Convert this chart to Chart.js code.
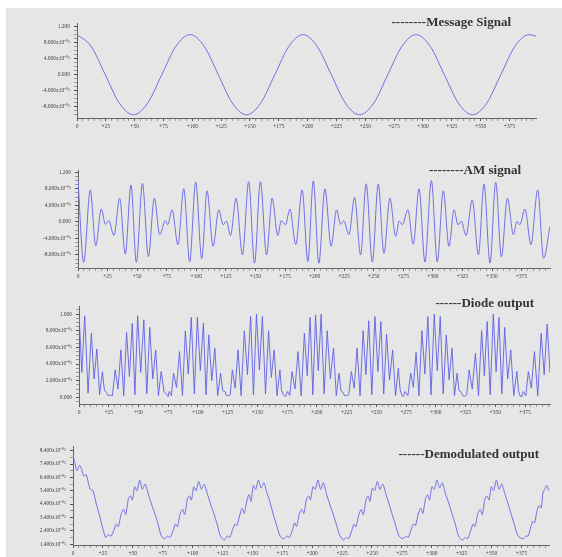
<!DOCTYPE html>
<html>
<head>
<meta charset="utf-8">
<script src="https://cdn.jsdelivr.net/npm/chart.js@4.4.0/dist/chart.umd.min.js"></script>
<style>
body{margin:0;background:#fff;}
#wrap{position:relative;width:562px;height:557px;overflow:hidden;}
#bg{position:absolute;left:6px;top:8px;right:0;bottom:0;background:#e6e6e6;}
canvas{position:absolute;left:0;}
.ttl{position:absolute;font-family:"Liberation Serif",serif;font-weight:bold;font-size:13px;color:#333;white-space:nowrap;line-height:16px;}
</style>
</head>
<body>
<div id="wrap">
  <div id="bg"></div>
  <canvas id="c1"></canvas>
  <canvas id="c2"></canvas>
  <canvas id="c3"></canvas>
  <canvas id="c4"></canvas>
  <div class="ttl" style="right:51px;top:14px">--------Message Signal</div>
  <div class="ttl" style="right:41px;top:162px">--------AM signal</div>
  <div class="ttl" style="right:28px;top:295px">------Diode output</div>
  <div class="ttl" style="right:23px;top:446px">------Demodulated output</div>
</div>
<script>
// x tick labels (shared by all four plots)
const xTickVals = [0,25,50,75,100,125,150,175,200,225,250,275,300,325,350,375];
const xTickLabels = ['0','+25','+50','+75','+100','+125','+150','+175','+200','+225','+250','+275','+300','+325','+350','+375'];

// y tick labels
const y1Ticks = [-0.8,-0.4,0,0.4,0.8,1.2];
const y1Labels = ['-8.000x10⁻⁰¹','-4.000x10⁻⁰¹','0.000','4.000x10⁻⁰¹','8.000x10⁻⁰¹','1.200'];
const y3Ticks = [0,0.2,0.4,0.6,0.8,1.0];
const y3Labels = ['0.000','2.000x10⁻⁰¹','4.000x10⁻⁰¹','6.000x10⁻⁰¹','8.000x10⁻⁰¹','1.000'];
const y4Ticks = [0.14,0.24,0.34,0.44,0.54,0.64,0.74,0.84];
const y4Labels = ['1.400x10⁻⁰¹','2.400x10⁻⁰¹','3.400x10⁻⁰¹','4.400x10⁻⁰¹','5.400x10⁻⁰¹','6.400x10⁻⁰¹','7.400x10⁻⁰¹','8.400x10⁻⁰¹'];

// message signal
const msgT = [0,12.25,24.5,36.75,49,61.25,73.5,85.75,98,110.25,122.5,134.75,147,159.25,171.5,183.75,196,
  208.25,220.5,232.75,245,257.25,269.5,281.75,294,306.25,318.5,330.75,343,355.25,367.5,379.75,392,398];
const msgV = [1,0.71,0,-0.71,-1,-0.71,0,0.71,1,0.71,0,-0.71,-1,-0.71,0,0.71,1,
  0.71,0,-0.71,-1,-0.71,0,0.71,1,0.71,0,-0.71,-1,-0.71,0,0.71,1,0.96];

// AM signal (turning points)
const amT = [0,4.8,10.4,15.0,19.7,23.1,25.9,30.4,35.2,40.0,44.8,49.3,54.5,59.5,64.5,69.1,73.9,75.8,79.5,84.5,
  89.4,94.4,99.5,104.6,109.1,114.2,119.0,122.7,125.5,128.9,133.7,139.0,144.3,149.2,154.2,159.4,164.1,168.9,171.8,175.4,
  179.1,184.1,189.5,194.3,198.9,203.6,208.7,214.0,218.6,222.0,224.7,229.0,233.8,238.9,243.6,248.8,253.8,258.6,263.7,268.5,
  271.6,274.1,278.9,283.4,288.3,293.3,298.7,303.7,308.8,313.6,317.9,321.2,324.0,328.0,333.3,338.5,343.2,348.3,353.1,357.9,
  363.0,368.1,371.0,373.5,377.8,382.9,388.6,393.6,399];
const amV = [0.99,-0.98,0.77,-0.58,0.31,-0.06,0.03,-0.33,0.57,-0.78,0.89,-0.98,0.93,-0.84,0.57,-0.31,0.03,-0.07,0.29,-0.55,
  0.80,-0.96,0.96,-0.89,0.75,-0.59,0.29,-0.07,0.02,-0.33,0.57,-0.80,0.97,-1.0,0.97,-0.80,0.57,-0.33,0.03,-0.07,
  0.31,-0.55,0.77,-0.96,0.99,-1.0,0.80,-0.59,0.29,-0.06,0.02,-0.31,0.59,-0.80,0.92,-0.97,0.91,-0.76,0.57,-0.35,
  0.02,-0.07,0.29,-0.54,0.80,-0.97,1.0,-0.97,0.75,-0.59,0.29,-0.07,0.01,-0.33,0.53,-0.80,0.91,-1.0,0.96,-0.84,
  0.57,-0.31,0.01,-0.07,0.31,-0.55,0.77,-0.88,-0.11];

// diode output
const diodeT = [0,2.4,4.8,7.6,10.4,12.7,15.0,17.3,19.7,21.4,23.1,24.5,25.9,28.1,30.4,32.8,35.2,37.6,40.0,42.4,
  44.8,47.0,49.3,51.9,54.5,57.0,59.5,62.0,64.5,66.8,69.1,71.5,73.9,74.9,75.8,77.6,79.5,82.0,84.5,87.0,
  89.4,91.9,94.4,97.0,99.5,102.0,104.6,106.8,109.1,111.6,114.2,116.6,119.0,120.8,122.7,124.1,125.5,127.2,128.9,131.3,
  133.7,136.3,139.0,141.6,144.3,146.7,149.2,151.7,154.2,156.8,159.4,161.7,164.1,166.5,168.9,170.3,171.8,173.6,175.4,177.2,
  179.1,181.6,184.1,186.8,189.5,191.9,194.3,196.6,198.9,201.2,203.6,206.1,208.7,211.3,214.0,216.3,218.6,220.3,222.0,223.3,
  224.7,226.8,229.0,231.4,233.8,236.3,238.9,241.2,243.6,246.2,248.8,251.3,253.8,256.2,258.6,261.1,263.7,266.1,268.5,270.0,
  271.6,272.8,274.1,276.5,278.9,281.1,283.4,285.8,288.3,290.8,293.3,296.0,298.7,301.2,303.7,306.2,308.8,311.2,313.6,315.7,
  317.9,319.5,321.2,322.6,324.0,326.0,328.0,330.6,333.3,335.9,338.5,340.8,343.2,345.7,348.3,350.7,353.1,355.5,357.9,360.4,
  363.0,365.5,368.1,369.5,371.0,372.2,373.5,375.6,377.8,380.3,382.9,385.7,388.6,391.1,393.6,396.0];
const diodeV = [1.0,0.30,0.98,0.05,0.77,0.22,0.58,0.03,0.31,0.08,0.06,0.02,0.03,0.02,0.33,0.10,0.57,0.02,0.78,0.25,
  0.89,0.03,0.98,0.30,0.93,0.04,0.84,0.22,0.57,0.02,0.31,0.07,0.03,0.01,0.07,0.02,0.29,0.12,0.55,0.02,
  0.80,0.28,0.96,0.04,0.96,0.32,0.89,0.03,0.75,0.20,0.59,0.02,0.29,0.08,0.07,0.02,0.02,0.03,0.33,0.11,
  0.57,0.02,0.80,0.27,0.97,0.03,1.0,0.33,0.97,0.04,0.80,0.24,0.57,0.02,0.33,0.08,0.03,0.01,0.07,0.02,
  0.31,0.10,0.55,0.02,0.77,0.26,0.96,0.03,0.99,0.32,1.0,0.04,0.80,0.22,0.59,0.02,0.29,0.08,0.06,0.02,
  0.02,0.03,0.31,0.11,0.59,0.02,0.80,0.27,0.92,0.03,0.97,0.31,0.91,0.04,0.76,0.21,0.57,0.02,0.35,0.09,
  0.02,0.01,0.07,0.02,0.29,0.12,0.54,0.02,0.80,0.28,0.97,0.03,1.0,0.32,0.97,0.04,0.75,0.21,0.59,0.02,
  0.29,0.08,0.07,0.02,0.01,0.03,0.33,0.10,0.53,0.02,0.80,0.26,0.91,0.03,1.0,0.31,0.96,0.04,0.84,0.22,
  0.57,0.02,0.31,0.08,0.01,0.01,0.07,0.02,0.31,0.11,0.55,0.02,0.77,0.27,0.88,0.30];

// demodulated output
const demodT = [0,1.6,3.3,5.5,7.2,8.9,11.1,12.8,14.5,16.7,19.5,22.3,25.1,27.3,29.6,31.8,34,36.3,37.9,40.4,
  42.4,44.1,46.3,48,49.6,51.6,53.5,55.8,58,60.3,62.8,65.6,68.4,71.1,73.9,
  76.7,79.2,81.2,83.7,85.7,87.3,89.7,91.7,93.4,95.7,97.4,99.0,101.0,102.9,105.2,107.4,109.7,112.2,115.0,117.7,120.5,123.3,
  126.5,129,131,133.5,135.5,137.1,139.5,141.5,143.2,145.5,147.2,148.8,150.8,152.7,155,157.2,159.5,162,164.8,167.5,170.3,173.1,
  176.3,178.8,180.8,183.3,185.3,186.9,189.3,191.3,193,195.3,197,198.6,200.6,202.5,204.8,207,209.3,211.8,214.6,217.3,220.1,222.9,
  226,228.5,230.5,233,235,236.6,239,241,242.7,245,246.7,248.3,250.3,252.2,254.5,256.7,259,261.5,264.3,267,269.8,272.6,
  275.8,278.3,280.3,282.8,284.8,286.4,288.8,290.8,292.5,294.8,296.5,298.1,300.1,302,304.3,306.5,308.8,311.3,314.1,316.8,319.6,322.4,
  325.5,328,330,332.5,334.5,336.1,338.5,340.5,342.2,344.5,346.2,347.8,349.8,351.7,354,356.2,358.5,361,363.8,366.5,369.3,372.1,
  376.3,378.5,380.5,382.5,384.5,386,388,390,391.5,393,394.5,396,398];
const demodV = [0.80,0.75,0.69,0.73,0.70,0.65,0.66,0.60,0.55,0.54,0.44,0.35,0.25,0.19,0.21,0.20,0.24,0.29,0.27,0.37,
  0.40,0.36,0.48,0.50,0.47,0.57,0.54,0.62,0.55,0.59,0.52,0.44,0.37,0.29,0.20,
  0.18,0.20,0.19,0.24,0.29,0.27,0.37,0.40,0.36,0.48,0.50,0.47,0.57,0.54,0.61,0.55,0.59,0.52,0.44,0.37,0.29,0.20,
  0.17,0.20,0.19,0.25,0.29,0.28,0.36,0.41,0.37,0.47,0.51,0.46,0.58,0.55,0.62,0.56,0.60,0.53,0.45,0.36,0.28,0.20,
  0.18,0.20,0.19,0.24,0.30,0.27,0.37,0.40,0.37,0.48,0.50,0.47,0.57,0.55,0.62,0.55,0.60,0.52,0.44,0.37,0.29,0.21,
  0.17,0.19,0.18,0.24,0.29,0.27,0.36,0.40,0.36,0.47,0.50,0.46,0.56,0.54,0.61,0.55,0.59,0.52,0.44,0.36,0.28,0.20,
  0.18,0.20,0.19,0.25,0.29,0.28,0.37,0.41,0.37,0.48,0.51,0.47,0.57,0.55,0.62,0.56,0.60,0.52,0.45,0.37,0.29,0.20,
  0.17,0.19,0.18,0.24,0.29,0.27,0.37,0.40,0.36,0.48,0.50,0.47,0.57,0.54,0.62,0.55,0.59,0.52,0.44,0.36,0.28,0.20,
  0.18,0.20,0.20,0.26,0.31,0.30,0.39,0.43,0.41,0.53,0.55,0.58,0.54];

const tickFont = {family: '"Liberation Serif", serif', size: 5.5};
const lineColor = '#6f6fe6';

function near(a, b) { return Math.abs(a - b) < 1e-6; }

function makePanel(id, p) {
  const cv = document.getElementById(id);
  const padTop = 12, xAxisH = 22;
  cv.width = 562;
  cv.height = (p.bottom - p.top) + padTop + xAxisH;
  cv.style.top = (p.top - padTop) + 'px';
  const pts = p.t.map((t, i) => ({x: t, y: p.v[i]}));
  return new Chart(cv, {
    type: 'line',
    data: {datasets: [{
      data: pts,
      borderColor: p.color || lineColor,
      borderWidth: 1,
      pointRadius: 0,
      tension: p.tension || 0,
      cubicInterpolationMode: p.mono ? 'monotone' : 'default'
    }]},
    options: {
      responsive: false,
      animation: false,
      layout: {padding: {top: padTop, right: 562 - p.right, left: 0, bottom: 0}},
      plugins: {legend: {display: false}, tooltip: {enabled: false}},
      scales: {
        x: {
          type: 'linear', min: 0, max: p.xmax,
          afterFit: s => { s.height = xAxisH; },
          afterBuildTicks: s => {
            const tk = [];
            for (let v = 0; v <= p.xmax; v += 5) tk.push({value: v});
            s.ticks = tk;
          },
          ticks: {
            autoSkip: false, maxRotation: 0, padding: 2, color: '#444', font: tickFont,
            callback: v => { const i = xTickVals.findIndex(t => near(t, v)); return i < 0 ? '' : xTickLabels[i]; }
          },
          grid: {
            drawOnChartArea: false, tickLength: 3,
            tickColor: c => (c.tick && xTickVals.some(t => near(t, c.tick.value))) ? '#555' : '#999'
          },
          border: {color: '#666', width: 1}
        },
        y: {
          min: p.ymin, max: p.ymax,
          afterFit: s => { s.width = p.left; },
          afterBuildTicks: s => {
            const tk = [];
            for (let v = p.minorStart; v <= p.ymax + 1e-9; v += p.minorStep) tk.push({value: Math.round(v * 1000) / 1000});
            s.ticks = tk.filter(t => t.value >= p.ymin - 1e-9);
          },
          ticks: {
            autoSkip: false, padding: 4, color: '#444', font: tickFont,
            callback: v => { const i = p.yTicks.findIndex(t => near(t, v)); return i < 0 ? '' : p.yLabels[i]; }
          },
          grid: {
            drawOnChartArea: false, tickLength: 3,
            tickColor: c => (c.tick && p.yTicks.some(t => near(t, c.tick.value))) ? '#555' : '#999'
          },
          border: {color: '#666', width: 1}
        }
      }
    }
  });
}

makePanel('c1', {t: msgT, v: msgV, top: 23, bottom: 118, left: 77, right: 536, xmax: 398,
  ymin: -1.08, ymax: 1.29, yTicks: y1Ticks, yLabels: y1Labels, minorStart: -1.0, minorStep: 0.1, mono: true});
makePanel('c2', {t: amT, v: amV, top: 170, bottom: 268, left: 78, right: 550, xmax: 399,
  ymin: -1.116, ymax: 1.253, yTicks: y1Ticks, yLabels: y1Labels, minorStart: -1.1, minorStep: 0.1, mono: true});
makePanel('c3', {t: diodeT, v: diodeV, top: 306, bottom: 404, left: 79, right: 550, xmax: 396,
  ymin: -0.08, ymax: 1.097, yTicks: y3Ticks, yLabels: y3Labels, minorStart: -0.05, minorStep: 0.05, color: 'rgba(95,95,230,0.9)'});
makePanel('c4', {t: demodT, v: demodV, top: 446, bottom: 545, left: 73, right: 549, xmax: 398,
  ymin: 0.133, ymax: 0.875, yTicks: y4Ticks, yLabels: y4Labels, minorStart: 0.14, minorStep: 0.05, tension: 0.25});
</script>
</body>
</html>
